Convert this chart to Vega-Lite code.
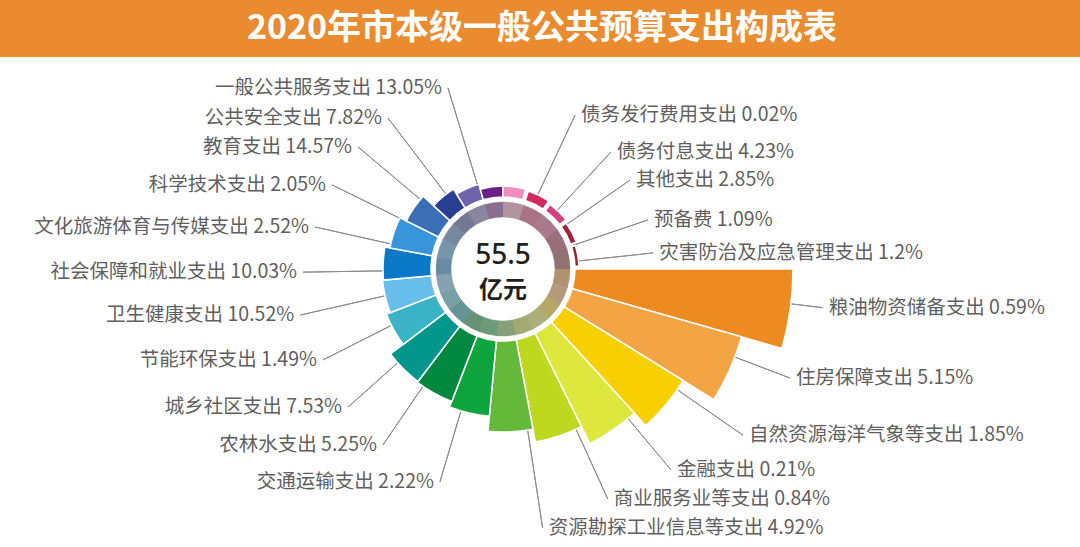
{
  "$schema": "https://vega.github.io/schema/vega-lite/v6.json",
  "background": "#ffffff",
  "padding": {"left": 0, "top": 0, "right": 0, "bottom": 12},
  "config": {"view": {"stroke": null}, "font": "Noto Sans CJK SC"},
  "spacing": 0,
  "bounds": "flush",
  "vconcat": [
    {
      "width": 1080,
      "height": 57,
      "view": {"fill": "#E98B2E", "stroke": null},
      "data": {"values": [{"title": "2020年市本级一般公共预算支出构成表"}]},
      "mark": {"type": "text", "fill": "#ffffff", "fontSize": 34, "fontWeight": "bold", "font": "Noto Sans CJK SC", "baseline": "middle", "align": "center", "dx": 2},
      "encoding": {"text": {"field": "title"}}
    },
    {
      "width": 1006,
      "height": 424,
      "data": {
        "values": [
          {"rank": 0, "name": "粮油物资储备支出", "pct": 0.59, "label": "粮油物资储备支出 0.59%"},
          {"rank": 1, "name": "住房保障支出", "pct": 5.15, "label": "住房保障支出 5.15%"},
          {"rank": 2, "name": "自然资源海洋气象等支出", "pct": 1.85, "label": "自然资源海洋气象等支出 1.85%"},
          {"rank": 3, "name": "金融支出", "pct": 0.21, "label": "金融支出 0.21%"},
          {"rank": 4, "name": "商业服务业等支出", "pct": 0.84, "label": "商业服务业等支出 0.84%"},
          {"rank": 5, "name": "资源勘探工业信息等支出", "pct": 4.92, "label": "资源勘探工业信息等支出 4.92%"},
          {"rank": 6, "name": "交通运输支出", "pct": 2.22, "label": "交通运输支出 2.22%"},
          {"rank": 7, "name": "农林水支出", "pct": 5.25, "label": "农林水支出 5.25%"},
          {"rank": 8, "name": "城乡社区支出", "pct": 7.53, "label": "城乡社区支出 7.53%"},
          {"rank": 9, "name": "节能环保支出", "pct": 1.49, "label": "节能环保支出 1.49%"},
          {"rank": 10, "name": "卫生健康支出", "pct": 10.52, "label": "卫生健康支出 10.52%"},
          {"rank": 11, "name": "社会保障和就业支出", "pct": 10.03, "label": "社会保障和就业支出 10.03%"},
          {"rank": 12, "name": "文化旅游体育与传媒支出", "pct": 2.52, "label": "文化旅游体育与传媒支出 2.52%"},
          {"rank": 13, "name": "科学技术支出", "pct": 2.05, "label": "科学技术支出 2.05%"},
          {"rank": 14, "name": "教育支出", "pct": 14.57, "label": "教育支出 14.57%"},
          {"rank": 15, "name": "公共安全支出", "pct": 7.82, "label": "公共安全支出 7.82%"},
          {"rank": 16, "name": "一般公共服务支出", "pct": 13.05, "label": "一般公共服务支出 13.05%"},
          {"rank": 17, "name": "债务发行费用支出", "pct": 0.02, "label": "债务发行费用支出 0.02%"},
          {"rank": 18, "name": "债务付息支出", "pct": 4.23, "label": "债务付息支出 4.23%"},
          {"rank": 19, "name": "其他支出", "pct": 2.85, "label": "其他支出 2.85%"},
          {"rank": 20, "name": "预备费", "pct": 1.09, "label": "预备费 1.09%"},
          {"rank": 21, "name": "灾害防治及应急管理支出", "pct": 1.2, "label": "灾害防治及应急管理支出 1.2%"}
        ]
      },
      "layer": [
        {
          "mark": {"type": "arc", "radius": 67, "radius2": 52, "fill": "#959595", "stroke": "#959595", "strokeWidth": 0.5},
          "encoding": {
            "theta": {"aggregate": "count", "type": "quantitative", "stack": true, "scale": {"type": "linear", "domain": [0, 17, 22], "range": [1.5708, 6.2832, 7.854], "zero": false, "nice": false}},
            "order": {"field": "rank", "type": "quantitative", "sort": "ascending"}
          }
        },
        {
          "mark": {"type": "arc", "radius": 67, "radius2": 52, "opacity": 0.32},
          "encoding": {
            "theta": {"aggregate": "count", "type": "quantitative", "stack": true, "scale": {"type": "linear", "domain": [0, 17, 22], "range": [1.5708, 6.2832, 7.854], "zero": false, "nice": false}},
            "color": {"field": "name", "type": "nominal", "legend": null, "scale": {"domain": ["粮油物资储备支出", "住房保障支出", "自然资源海洋气象等支出", "金融支出", "商业服务业等支出", "资源勘探工业信息等支出", "交通运输支出", "农林水支出", "城乡社区支出", "节能环保支出", "卫生健康支出", "社会保障和就业支出", "文化旅游体育与传媒支出", "科学技术支出", "教育支出", "公共安全支出", "一般公共服务支出", "债务发行费用支出", "债务付息支出", "其他支出", "预备费", "灾害防治及应急管理支出"], "range": ["#ED8B20", "#F3A445", "#F8CF00", "#DEE73E", "#BDD81E", "#64B93B", "#0EA53F", "#00883F", "#00968B", "#3BB3C6", "#67BEEA", "#0B79C7", "#3895DA", "#3A6EB5", "#2A3E92", "#6E64AC", "#6C2087", "#EE8EBF", "#D22A5F", "#D5407E", "#A5203F", "#8F2A26"]}},
            "order": {"field": "rank", "type": "quantitative", "sort": "ascending"}
          }
        },
        {
          "mark": {"type": "arc", "radius2": 74, "filled": false, "stroke": "#8c8c8c", "strokeWidth": 1},
          "encoding": {
            "theta": {"field": "rank", "type": "quantitative", "stack": null, "scale": {"type": "linear", "domain": [0,1,2,3,4,5,6,7,8,9,10,11,12,13,14,15,16,17,18,19,20,21], "range": [1.6912,1.9338,2.1764,2.4452,2.7140,2.9897,3.4296,3.7403,3.9846,4.2446,4.4890,4.6967,4.9323,5.1697,5.4122,5.6321,5.9882,6.7213,7.0284,7.2431,7.5276,7.7475], "zero": false, "nice": false}},
            "theta2": {"field": "rank"},
            "radius": {"field": "rank", "type": "quantitative", "scale": {"type": "linear", "domain": [0,1,2,3,4,5,6,7,8,9,10,11,12,13,14,15,16,17,18,19,20,21], "range": [322,307,292,262,252.8,262,222,213,207.5,201.7,208,200,192.6,190.5,189.5,189.8,189.2,170,159,155,153,151], "zero": false, "nice": false}}
          }
        },
        {
          "mark": {"type": "arc", "radius2": 72, "theta2Offset": 0.2772, "stroke": "#ffffff", "strokeWidth": 1.5},
          "encoding": {
            "theta": {"field": "rank", "type": "quantitative", "stack": null, "scale": {"type": "linear", "domain": [0, 17, 22], "range": [1.5708, 6.2832, 7.854], "zero": false, "nice": false}},
            "theta2": {"field": "rank"},
            "radius": {"field": "rank", "type": "quantitative", "scale": {"type": "linear", "domain": [0,1,2,3,4,5,6,7,8,9,10,11,12,13,14,15,16,17,18,19,20,21], "range": [290,248,212,195,176,163,148,142,141,125,121,120,115,108,94,88,83,83,82,80,78,76], "zero": false, "nice": false}},
            "color": {"field": "name", "type": "nominal", "legend": null}
          }
        },
        {
          "transform": [{"filter": "datum.rank <= 5 || datum.rank >= 17"}],
          "mark": {"type": "text", "align": "left", "baseline": "middle", "dx": 6, "fontSize": 19.5, "fill": "#5f5f5f", "font": "Noto Sans CJK SC"},
          "encoding": {
            "theta": {"field": "rank", "type": "quantitative", "stack": null, "scale": {"type": "linear", "domain": [0,1,2,3,4,5,6,7,8,9,10,11,12,13,14,15,16,17,18,19,20,21], "range": [1.6912,1.9338,2.1764,2.4452,2.7140,2.9897,3.4296,3.7403,3.9846,4.2446,4.4890,4.6967,4.9323,5.1697,5.4122,5.6321,5.9882,6.7213,7.0284,7.2431,7.5276,7.7475], "zero": false, "nice": false}},
            "radius": {"field": "rank", "type": "quantitative", "scale": {"type": "linear", "domain": [0,1,2,3,4,5,6,7,8,9,10,11,12,13,14,15,16,17,18,19,20,21], "range": [322,307,292,262,252.8,262,222,213,207.5,201.7,208,200,192.6,190.5,189.5,189.8,189.2,170,159,155,153,151], "zero": false, "nice": false}},
            "text": {"field": "label"}
          }
        },
        {
          "transform": [{"filter": "datum.rank >= 6 && datum.rank <= 16"}],
          "mark": {"type": "text", "align": "right", "baseline": "middle", "dx": -6, "fontSize": 19.5, "fill": "#5f5f5f", "font": "Noto Sans CJK SC"},
          "encoding": {
            "theta": {"field": "rank", "type": "quantitative", "stack": null, "scale": {"type": "linear", "domain": [0,1,2,3,4,5,6,7,8,9,10,11,12,13,14,15,16,17,18,19,20,21], "range": [1.6912,1.9338,2.1764,2.4452,2.7140,2.9897,3.4296,3.7403,3.9846,4.2446,4.4890,4.6967,4.9323,5.1697,5.4122,5.6321,5.9882,6.7213,7.0284,7.2431,7.5276,7.7475], "zero": false, "nice": false}},
            "radius": {"field": "rank", "type": "quantitative", "scale": {"type": "linear", "domain": [0,1,2,3,4,5,6,7,8,9,10,11,12,13,14,15,16,17,18,19,20,21], "range": [322,307,292,262,252.8,262,222,213,207.5,201.7,208,200,192.6,190.5,189.5,189.8,189.2,170,159,155,153,151], "zero": false, "nice": false}},
            "text": {"field": "label"}
          }
        },
        {
          "data": {"values": [{"total": "55.5"}]},
          "mark": {"type": "text", "fontSize": 28, "fontWeight": 500, "fill": "#231f20", "dy": -13, "font": "Noto Sans"},
          "encoding": {"text": {"field": "total"}}
        },
        {
          "data": {"values": [{"unit": "亿元"}]},
          "mark": {"type": "text", "fontSize": 24, "fontWeight": "bold", "fill": "#231f20", "dy": 22, "font": "Noto Sans CJK SC"},
          "encoding": {"text": {"field": "unit"}}
        }
      ],
      "resolve": {"scale": {"theta": "independent", "radius": "independent"}}
    }
  ]
}
